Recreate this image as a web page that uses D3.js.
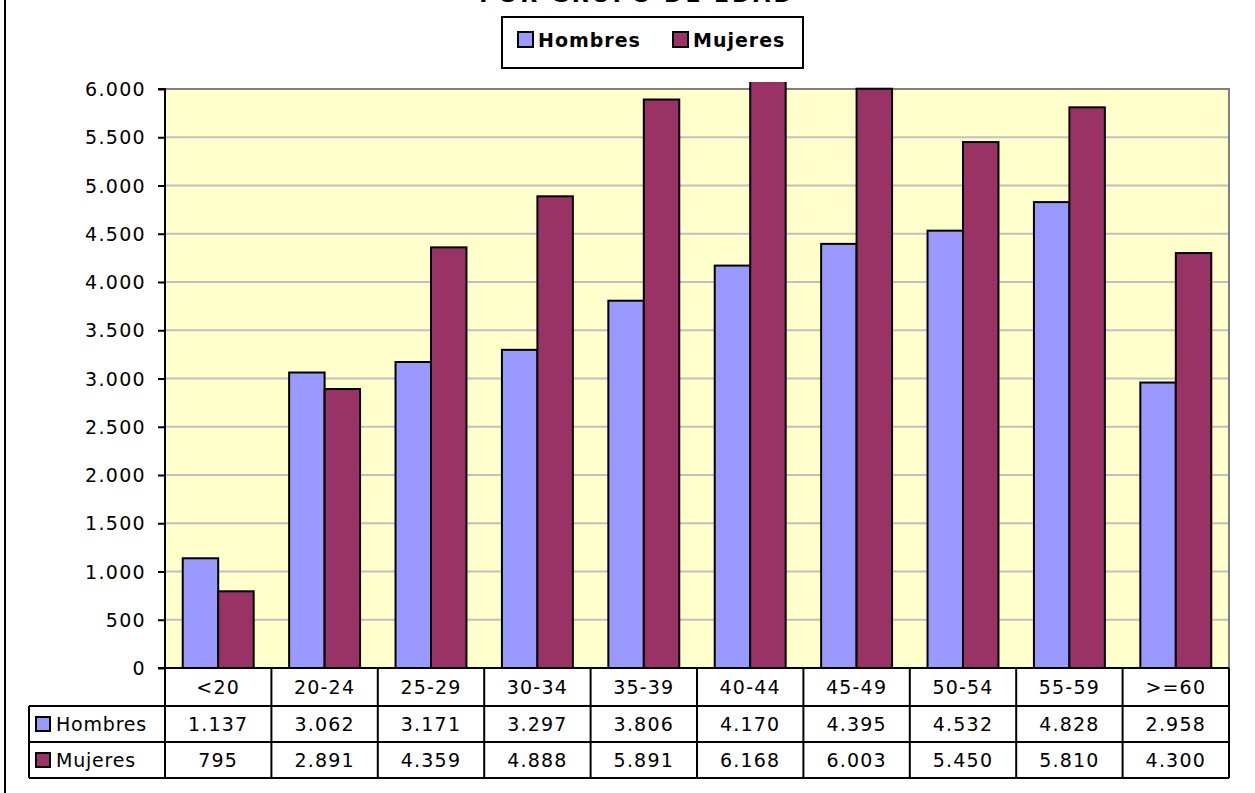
<!DOCTYPE html>
<html><head><meta charset="utf-8">
<script src="https://cdn.jsdelivr.net/npm/d3@7"></script>
<style>html,body{margin:0;padding:0;background:#fff;overflow:hidden}svg{display:block}</style>
</head><body>
<script>
const categories = ["<20","20-24","25-29","30-34","35-39","40-44","45-49","50-54","55-59",">=60"];
const hombres = [1137,3062,3171,3297,3806,4170,4395,4532,4828,2958];
const mujeres = [795,2891,4359,4888,5891,6168,6003,5450,5810,4300];
const seriesNames = ["Hombres","Mujeres"];
const seriesColors = ["#9999FF","#993366"];
const yTicks = [0,500,1000,1500,2000,2500,3000,3500,4000,4500,5000,5500,6000];
const title = "POR GRUPO DE EDAD";

(function () {
const W = 1255, H = 793;
const svg = d3.select("body").append("svg").attr("width", W).attr("height", H);
const font = "'DejaVu Sans', Verdana, sans-serif";
const loc = d3.formatLocale({decimal: ",", thousands: ".", grouping: [3], currency: ["", ""]});
const fmt = loc.format(",d");

const pL = 165, pR = 1229, pT = 89, pB = 668;
const x = d3.scaleBand().domain(categories).range([pL, pR]).padding(0);
const inner = d3.scaleBand().domain(seriesNames).range([0, x.bandwidth()]).paddingOuter(0.5).paddingInner(0);
const y = d3.scaleLinear().domain([0, 6000]).range([pB, pT]);

svg.append("line").attr("x1", 5).attr("x2", 5).attr("y1", 0).attr("y2", H).attr("stroke", "#000").attr("stroke-width", 2);

svg.append("text").attr("x", 637).attr("y", 2).attr("text-anchor", "middle")
  .attr("font-family", font).attr("font-weight", "bold").attr("font-size", 22)
  .attr("letter-spacing", 3).text(title);

svg.append("rect").attr("x", pL).attr("y", pT).attr("width", pR - pL).attr("height", pB - pT).attr("fill", "#FFFFCC");

svg.append("g").selectAll("line").data(yTicks.filter(d => d > 0)).join("line")
  .attr("x1", pL).attr("x2", pR).attr("y1", d => y(d)).attr("y2", d => y(d))
  .attr("stroke", "#C0C0C0").attr("stroke-width", 2);

svg.append("path").attr("d", `M${pL},${pT}H${pR}V${pB}`).attr("fill", "none").attr("stroke", "#808080").attr("stroke-width", 2);

svg.append("clipPath").attr("id", "clip").append("rect").attr("x", pL).attr("y", pT - 7).attr("width", pR - pL).attr("height", pB - pT + 7);

const data = categories.map((c, i) => ({cat: c, vals: [hombres[i], mujeres[i]]}));
const bars = svg.append("g").attr("clip-path", "url(#clip)");
bars.selectAll("g").data(data).join("g")
  .attr("transform", d => `translate(${x(d.cat)},0)`)
  .selectAll("rect").data(d => d.vals.map((v, k) => ({v, k}))).join("rect")
  .attr("x", d => inner(seriesNames[d.k]))
  .attr("width", inner.bandwidth())
  .attr("y", d => y(d.v))
  .attr("height", d => y(0) - y(d.v))
  .attr("fill", d => seriesColors[d.k])
  .attr("stroke", "#000").attr("stroke-width", 2);

const yAxis = d3.axisLeft(y).tickValues(yTicks).tickFormat(fmt).tickSize(7).tickPadding(12);
const ga = svg.append("g").attr("transform", `translate(${pL},0)`).call(yAxis);
ga.select(".domain").attr("stroke", "#000").attr("stroke-width", 2).attr("d", `M-7,${pT}H0V${pB}H-7`);
ga.selectAll(".tick line").attr("stroke", "#000").attr("stroke-width", 2);
ga.selectAll(".tick text").attr("font-family", font).attr("font-size", 19).attr("letter-spacing", 1.3).attr("fill", "#000").attr("dy", "0.35em");

const r0 = pB, r1 = 706, r2 = 742, r3 = 778, tl = 29;
const tg = svg.append("g");
const ln = (x1, y1, x2, y2) => tg.append("line").attr("x1", x1).attr("y1", y1).attr("x2", x2).attr("y2", y2).attr("stroke", "#000").attr("stroke-width", 2);
ln(pL, r0, pR, r0);
ln(tl, r1, pR, r1);
ln(tl, r2, pR, r2);
ln(tl, r3, pR, r3);
ln(tl, r1, tl, r3);
ln(pR, r0, pR, r3);
x.domain().forEach(c => ln(x(c), r0, x(c), r3));

const cellText = (cx, cy, t) => tg.append("text").attr("x", cx).attr("y", cy).attr("text-anchor", "middle")
  .attr("dy", "0.35em").attr("font-family", font).attr("font-size", 19).attr("letter-spacing", 1.2).attr("fill", "#000").text(t);
categories.forEach((c, i) => {
  const cx = x(c) + x.bandwidth() / 2;
  cellText(cx, (r0 + r1) / 2, c);
  cellText(cx, (r1 + r2) / 2, fmt(hombres[i]));
  cellText(cx, (r2 + r3) / 2, fmt(mujeres[i]));
});
[[r1, r2], [r2, r3]].forEach(([a, b], k) => {
  const cy = (a + b) / 2;
  tg.append("rect").attr("x", 36).attr("y", cy - 7).attr("width", 14).attr("height", 14)
    .attr("fill", seriesColors[k]).attr("stroke", "#000").attr("stroke-width", 2);
  tg.append("text").attr("x", 56).attr("y", cy).attr("dy", "0.35em").attr("font-family", font)
    .attr("font-size", 19).attr("letter-spacing", 0.8).attr("fill", "#000").text(seriesNames[k]);
});

const lg = svg.append("g");
lg.append("rect").attr("x", 502).attr("y", 17).attr("width", 301).attr("height", 51).attr("fill", "#fff").attr("stroke", "#000").attr("stroke-width", 2);
const legX = [518, 673];
seriesNames.forEach((n, k) => {
  lg.append("rect").attr("x", legX[k]).attr("y", 32).attr("width", 15).attr("height", 15)
    .attr("fill", seriesColors[k]).attr("stroke", "#000").attr("stroke-width", 2);
  lg.append("text").attr("x", legX[k] + 20).attr("y", 40).attr("dy", "0.35em").attr("font-family", font)
    .attr("font-weight", "bold").attr("font-size", 19).attr("letter-spacing", 1).attr("fill", "#000").text(n);
});
})();
</script>
</body></html>
